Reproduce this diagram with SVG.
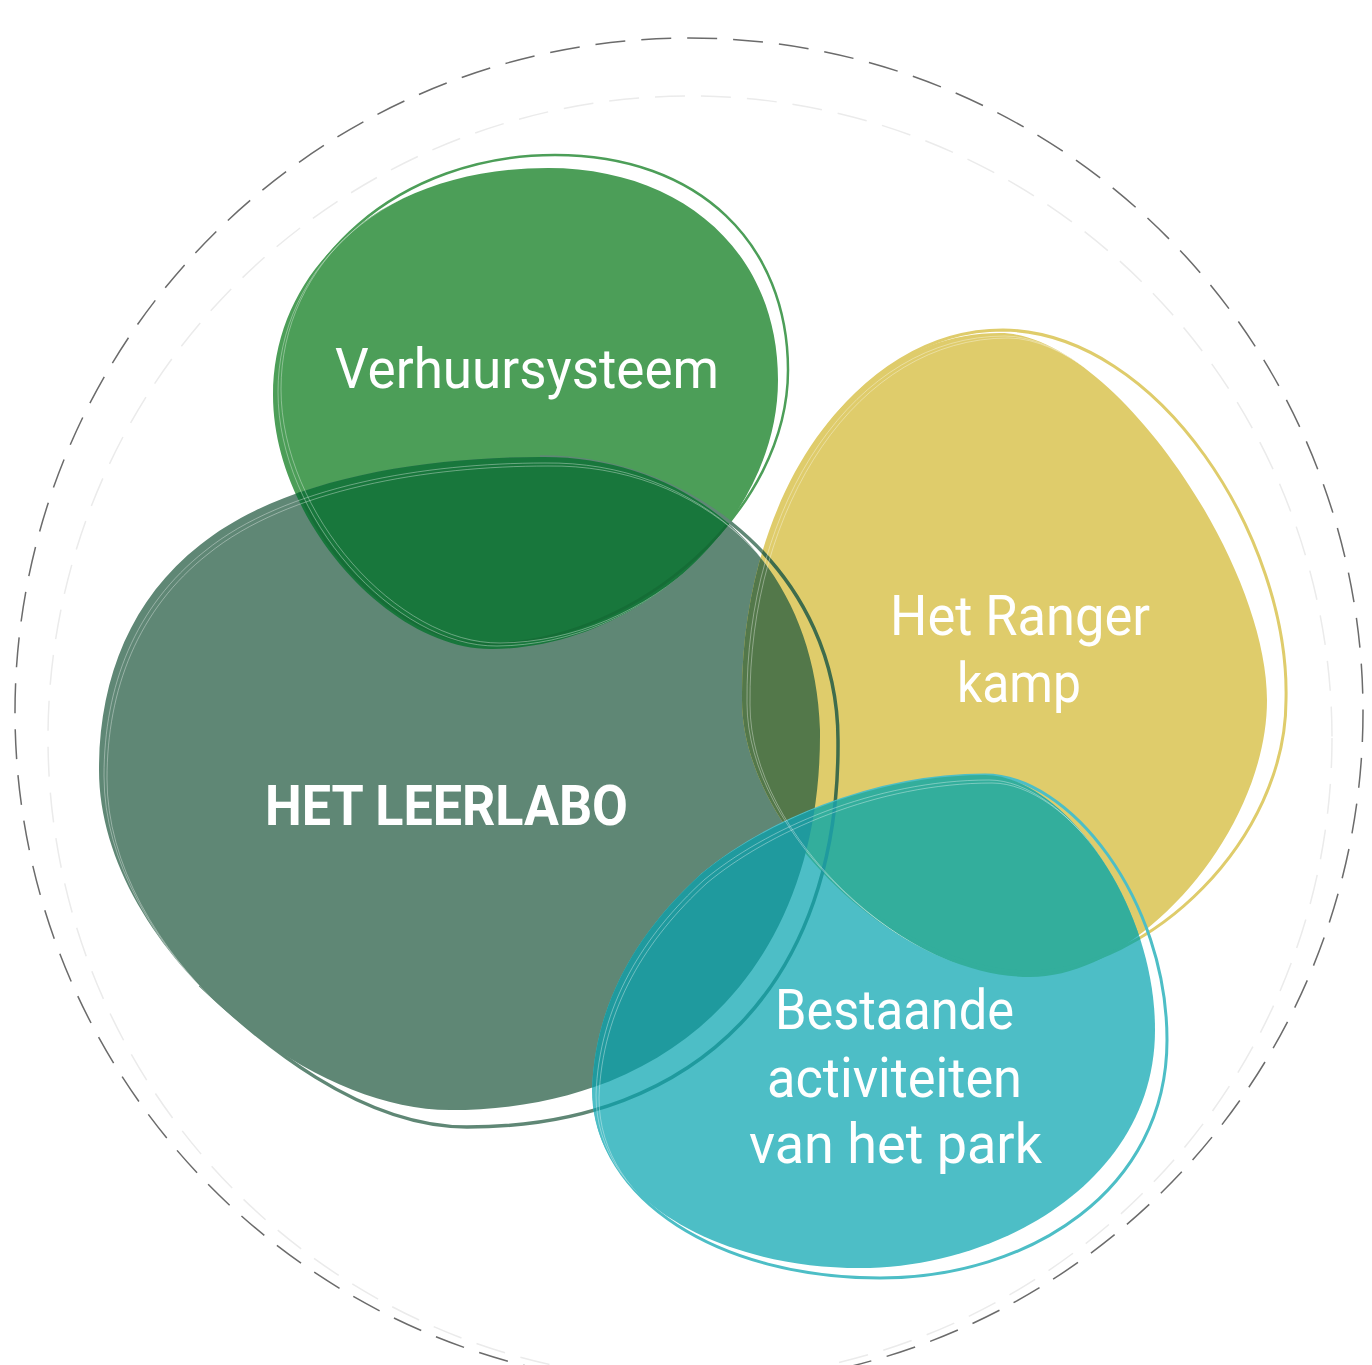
<svg xmlns="http://www.w3.org/2000/svg" xmlns:xlink="http://www.w3.org/1999/xlink" width="1372" height="1365" viewBox="0 0 1372 1365">
<style>
.lbl{fill:#ffffff;font-family:Roboto,"Liberation Sans",sans-serif;font-size:55px;}
.bold{font-weight:700;}
.hair{fill:none;stroke:#ffffff;stroke-opacity:.45;stroke-width:.8;}
.ring{fill:none;stroke-width:1.5;stroke-dasharray:30 16;}
</style>
<defs>
<path id="pG" d="M 548,168 C 680,168 778,250 778,380 C 778,520 640,648 492,649 C 390,650 273,520 273,395 C 273,270 380,168 548,168 Z"/>
<path id="oG" d="M 555,155 C 700,155 788,245 788,370 C 788,510 640,640 492,644 C 390,646 278,520 278,395 C 278,260 400,155 555,155 Z"/>
<path id="pL" d="M 540,457 C 690,455 815,560 820,730 C 822,960 680,1110 450,1110 C 300,1110 99,940 99,770 C 99,680 130,600 200,545 C 280,480 420,457 540,457 Z"/>
<path id="oL" d="M 200,985 C 260,1042 360,1127 467,1127 C 700,1127 840,980 838,740 C 838,580 700,457 540,457"/>
<path id="pY" d="M 1000,333 C 1110,333 1267,560 1267,700 C 1267,830 1140,977 1030,977 C 900,977 742,830 742,700 C 740,500 850,333 1000,333 Z"/>
<path id="oY" d="M 1003,330 C 1160,332 1290,540 1286,700 C 1286,840 1150,970 1030,972 C 900,972 745,830 745,700 C 743,500 855,330 1003,330 Z"/>
<path id="pT" d="M 985,775 C 1060,775 1155,900 1155,1030 C 1155,1180 1000,1268 860,1268 C 720,1268 592,1200 592,1090 C 595,1000 640,930 700,875 C 760,825 870,775 985,775 Z"/>
<path id="oT" d="M 985,775 C 1070,775 1167,900 1167,1040 C 1167,1190 1030,1278 880,1278 C 720,1278 594,1200 594,1090 C 597,1000 642,930 702,875 C 762,825 870,775 985,775 Z"/>
<clipPath id="cG"><use xlink:href="#pG"/></clipPath>
<clipPath id="cL"><use xlink:href="#pL"/></clipPath>
<clipPath id="cY"><use xlink:href="#pY"/></clipPath>
<clipPath id="cT"><use xlink:href="#pT"/></clipPath>
</defs>

<g id="rings">
<circle class="ring" cx="689" cy="712" r="674" stroke="#6b6b6b"/>
<circle class="ring" cx="690" cy="738" r="642" stroke="#ebebeb"/>
</g>

<g id="node-verhuursysteem">
<use xlink:href="#pG" fill="#4c9e58"/>
<use xlink:href="#oG" fill="none" stroke="#4c9e58" stroke-width="2.5"/>
<text class="lbl" x="335" y="388" textLength="384" lengthAdjust="spacingAndGlyphs">Verhuursysteem</text>
</g>

<g id="node-leerlabo">
<use xlink:href="#oL" fill="none" stroke="#5f8775" stroke-width="3.5"/>
<use xlink:href="#pL" fill="#5f8775"/>
<g clip-path="url(#cL)">
<use xlink:href="#pG" fill="#18773c"/>
<use xlink:href="#oG" fill="none" stroke="#156d36" stroke-width="2.5"/>
</g>
<text class="lbl bold" x="265" y="825" textLength="363" lengthAdjust="spacingAndGlyphs">HET LEERLABO</text>
</g>

<g id="node-rangerkamp">
<use xlink:href="#pY" fill="#dfcc6b"/>
<use xlink:href="#oY" fill="none" stroke="#dfcc6b" stroke-width="3"/>
<g clip-path="url(#cY)">
<use xlink:href="#pL" fill="#53784a"/>
<use xlink:href="#oL" fill="none" stroke="#3e6c4c" stroke-width="3.5"/>
</g>
<text class="lbl" x="890" y="635" textLength="260" lengthAdjust="spacingAndGlyphs">Het Ranger</text>
<text class="lbl" x="957" y="702" textLength="124" lengthAdjust="spacingAndGlyphs">kamp</text>
</g>

<g id="node-activiteiten">
<use xlink:href="#pT" fill="#4dbec6"/>
<use xlink:href="#oT" fill="none" stroke="#4dbec6" stroke-width="3"/>
<g clip-path="url(#cT)">
<use xlink:href="#pY" fill="#33ae9c"/>
<use xlink:href="#oY" fill="none" stroke="#33ae9c" stroke-width="3"/>
<use xlink:href="#pL" fill="#1f9a9e"/>
<use xlink:href="#oL" fill="none" stroke="#1f9a9e" stroke-width="3.5"/>
</g>
<text class="lbl" x="775" y="1029" textLength="239" lengthAdjust="spacingAndGlyphs">Bestaande</text>
<text class="lbl" x="767" y="1097" textLength="255" lengthAdjust="spacingAndGlyphs">activiteiten</text>
<text class="lbl" x="749" y="1163" textLength="293" lengthAdjust="spacingAndGlyphs">van het park</text>
</g>

<g id="hairlines">
<g clip-path="url(#cG)"><use xlink:href="#pG" class="hair" transform="translate(5,-3)"/><use xlink:href="#pG" class="hair" transform="translate(8,-6)"/></g>
<g clip-path="url(#cL)"><use xlink:href="#pL" class="hair" transform="translate(5,6)"/><use xlink:href="#pL" class="hair" transform="translate(8,9)"/></g>
<g clip-path="url(#cY)"><use xlink:href="#pY" class="hair" transform="translate(5,3)"/><use xlink:href="#pY" class="hair" transform="translate(8,5)"/></g>
<g clip-path="url(#cT)"><use xlink:href="#pT" class="hair" transform="translate(4,5)"/><use xlink:href="#pT" class="hair" transform="translate(7,8)"/></g>
</g>
</svg>
